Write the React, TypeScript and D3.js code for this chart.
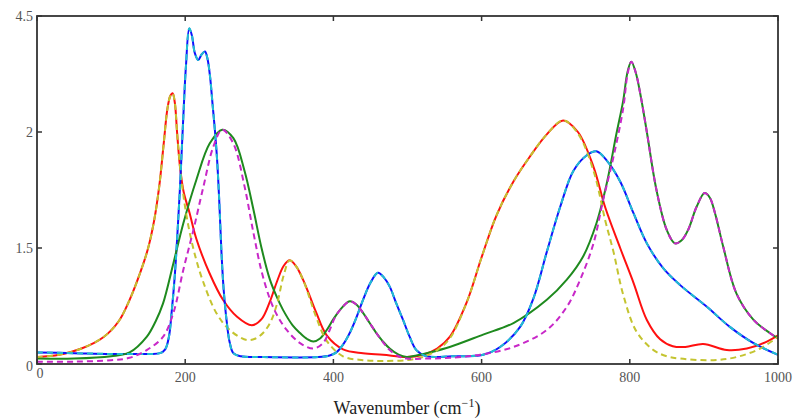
import React from "react";
import * as d3 from "d3";

// Wavenumber (cm^-1), intensity pairs
const redSeries: [number, number][] = [
  [0, 0.09], [30, 0.12], [60, 0.2], [90, 0.35], [110, 0.55], [125, 0.83], [140, 1.2], [150, 1.5],
  [158, 1.85], [165, 2.3], [171, 2.85], [176, 3.3], [180, 3.47], [183, 3.5], [186, 3.38], [189, 3.0],
  [193, 2.55], [198, 2.22], [206, 1.95], [215, 1.62], [233, 1.17], [251, 0.83], [270, 0.61], [290, 0.5],
  [303, 0.58], [314, 0.8], [324, 1.07], [333, 1.27], [341, 1.34], [350, 1.26], [359, 1.09], [368, 0.88],
  [377, 0.66], [391, 0.37], [413, 0.19], [440, 0.14], [467, 0.12], [499, 0.09], [521, 0.12], [540, 0.2],
  [557, 0.35], [580, 0.8], [600, 1.38], [620, 1.92], [643, 2.36], [665, 2.68], [688, 2.97], [710, 3.15],
  [730, 3.0], [751, 2.55], [767, 2.02], [787, 1.5], [805, 1.05], [823, 0.57], [841, 0.32], [858, 0.23],
  [875, 0.22], [899, 0.26], [931, 0.18], [958, 0.2], [985, 0.29], [1000, 0.37],
];

const yellowSeries: [number, number][] = [
  [0, 0.09], [30, 0.12], [60, 0.2], [90, 0.35], [110, 0.55], [125, 0.83], [140, 1.2], [150, 1.5],
  [158, 1.85], [165, 2.3], [171, 2.85], [176, 3.3], [180, 3.47], [183, 3.5], [186, 3.38], [189, 3.0],
  [193, 2.55], [198, 2.15], [205, 1.75], [214, 1.38], [224, 1.07], [242, 0.66], [260, 0.44], [283, 0.31],
  [295, 0.33], [305, 0.4], [315, 0.54], [324, 0.78], [333, 1.15], [341, 1.34], [350, 1.26], [359, 1.09],
  [368, 0.85], [377, 0.6], [391, 0.3], [413, 0.1], [440, 0.05], [467, 0.04], [499, 0.05], [521, 0.09],
  [540, 0.18], [557, 0.33], [580, 0.8], [600, 1.38], [620, 1.92], [643, 2.36], [665, 2.68], [688, 2.97],
  [710, 3.15], [730, 2.98], [751, 2.5], [767, 1.85], [778, 1.45], [791, 0.9], [809, 0.42], [832, 0.18],
  [850, 0.1], [868, 0.07], [913, 0.05], [944, 0.09], [976, 0.2], [1000, 0.35],
];

const blueSeries: [number, number][] = [
  [0, 0.15], [50, 0.14], [100, 0.13], [150, 0.13], [166, 0.14], [173, 0.19], [178, 0.35], [182, 0.7],
  [186, 1.15], [189, 1.6], [193, 2.29], [197, 3.1], [201, 3.85], [205.5, 4.34], [209, 4.25], [213, 4.02],
  [217.7, 3.93], [222, 4.0], [226.7, 4.04], [230, 3.95], [233.5, 3.72], [237, 3.35], [240, 3.03],
  [243, 2.65], [246, 2.1], [249, 1.43], [252, 0.95], [256, 0.55], [260, 0.28], [265, 0.14], [275, 0.1],
  [305, 0.09], [380, 0.09], [395, 0.11], [404, 0.15], [413, 0.25], [422, 0.4], [431, 0.6], [440, 0.83],
  [450, 1.05], [460, 1.18], [468, 1.12], [476, 1.0], [485, 0.78], [494, 0.57], [503, 0.35], [512, 0.18],
  [526, 0.1], [560, 0.1], [602, 0.12], [625, 0.22], [652, 0.48], [670, 0.85], [688, 1.45], [706, 2.03],
  [724, 2.5], [742, 2.7], [755, 2.75], [769, 2.63], [787, 2.36], [805, 1.95], [823, 1.56], [845, 1.24],
  [868, 1.02], [904, 0.74], [935, 0.48], [967, 0.27], [1000, 0.12],
];

const cyanSeries: [number, number][] = blueSeries.map(([x, y]) => [x, y]);

const greenSeries: [number, number][] = [
  [0, 0.07], [50, 0.07], [100, 0.1], [125, 0.15], [148, 0.35], [160, 0.55], [170, 0.78], [184, 1.3],
  [197.5, 1.82], [215, 2.38], [233, 2.85], [250, 3.03], [265, 2.92], [280, 2.5], [292, 2.0], [303, 1.5],
  [314, 1.1], [323, 0.88], [332, 0.7], [345, 0.5], [355, 0.4], [365, 0.32], [373, 0.29], [382, 0.33],
  [391, 0.44], [400, 0.58], [409, 0.7], [422, 0.81], [431, 0.77], [440, 0.66], [449, 0.53], [458, 0.4],
  [467, 0.29], [476, 0.2], [488, 0.12], [499, 0.09], [512, 0.11], [526, 0.14], [557, 0.22], [602, 0.38],
  [643, 0.53], [688, 0.83], [715, 1.09], [737, 1.39], [755, 1.82], [769, 2.34], [782, 2.98], [791, 3.4],
  [797, 3.78], [802, 3.91], [808, 3.77], [815, 3.45], [823, 3.0], [836, 2.25], [850, 1.73], [861, 1.56],
  [870, 1.6], [879, 1.74], [890, 2.03], [901, 2.21], [908, 2.15], [915, 1.95], [926, 1.52], [944, 0.91],
  [967, 0.57], [989, 0.4], [1000, 0.33],
];

const magentaSeries: [number, number][] = [
  [0, 0.03], [50, 0.03], [100, 0.05], [125, 0.08], [148, 0.18], [170, 0.35], [184, 0.66], [197.5, 1.22],
  [211, 1.73], [224.5, 2.29], [238, 2.81], [250, 3.03], [265, 2.85], [280, 2.3], [292, 1.7], [303, 1.2],
  [314, 0.85], [323.5, 0.64], [337, 0.44], [355, 0.27], [373, 0.2], [386, 0.27], [395, 0.44], [402, 0.6],
  [409, 0.7], [422, 0.81], [431, 0.77], [440, 0.66], [449, 0.53], [458, 0.4], [467, 0.28], [476, 0.18],
  [488, 0.1], [499, 0.07], [526, 0.07], [557, 0.08], [598, 0.12], [643, 0.22], [688, 0.44], [715, 0.74],
  [733, 1.09], [751, 1.56], [764, 2.12], [778, 2.68], [791, 3.3], [797, 3.75], [802, 3.91], [808, 3.77],
  [815, 3.45], [823, 3.0], [836, 2.25], [850, 1.73], [861, 1.56], [870, 1.6], [879, 1.74], [890, 2.03],
  [901, 2.21], [908, 2.15], [915, 1.95], [926, 1.52], [944, 0.91], [967, 0.57], [989, 0.4], [1000, 0.33],
];

const xTickValues = [0, 200, 400, 600, 800, 1000];
const xTickLabels = ["0", "200", "400", "600", "800", "1000"];
const yTickValues = [0, 1.5, 3, 4.5];
const yTickLabels = ["0", "1.5", "2", "4.5"];

const W = 798;
const H = 419;
const left = 37;
const right = 778;
const top = 16;
const bottom = 364;

export default function App() {
  const x = d3.scaleLinear().domain([0, 1000]).range([left, right]);
  const y = d3.scaleLinear().domain([0, 4.5]).range([bottom, top]);
  const line = d3
    .line<[number, number]>()
    .x((d) => x(d[0]))
    .y((d) => y(d[1]))
    .curve(d3.curveCatmullRom.alpha(0.5));

  const series = [
    { data: redSeries, color: "#ff1010", dash: null },
    { data: blueSeries, color: "#1010ff", dash: null },
    { data: greenSeries, color: "#1e8a1e", dash: null },
    { data: yellowSeries, color: "#c4c430", dash: "6,4" },
    { data: cyanSeries, color: "#20c0d0", dash: "6,4" },
    { data: magentaSeries, color: "#c828c8", dash: "6,4" },
  ];

  const font = "'Liberation Serif', 'DejaVu Serif', serif";
  const tickColor = "#555";

  return (
    <svg
      width={W}
      height={H}
      style={{ position: "absolute", left: 0, top: 0, background: "#fff" }}
    >
      <defs>
        <clipPath id="plotclip">
          <rect x={left} y={top - 2} width={right - left} height={bottom - top + 2} />
        </clipPath>
      </defs>
      <g clipPath="url(#plotclip)">
        {series.map((s, i) => (
          <path
            key={i}
            d={line(s.data) || ""}
            fill="none"
            stroke={s.color}
            strokeWidth={2}
            strokeDasharray={s.dash || undefined}
            strokeLinejoin="round"
          />
        ))}
      </g>
      {/* frame */}
      <rect
        x={left}
        y={top}
        width={right - left}
        height={bottom - top}
        fill="none"
        stroke="#333"
        strokeWidth={1.8}
      />
      {/* x ticks */}
      {xTickValues.map((v, i) => (
        <g key={"xt" + i}>
          <line x1={x(v)} x2={x(v)} y1={bottom} y2={bottom - 5} stroke="#333" strokeWidth={1.5} />
          <line x1={x(v)} x2={x(v)} y1={top} y2={top + 5} stroke="#333" strokeWidth={1.5} />
          <text
            x={x(v) + (v === 0 ? 3 : 0)}
            y={v === 0 ? 378 : 382}
            textAnchor="middle"
            fontFamily={font}
            fontSize={14}
            fill={tickColor}
          >
            {xTickLabels[i]}
          </text>
        </g>
      ))}
      {/* y ticks */}
      {yTickValues.map((v, i) => (
        <g key={"yt" + i}>
          <line x1={left} x2={left + 5} y1={y(v)} y2={y(v)} stroke="#333" strokeWidth={1.5} />
          <line x1={right} x2={right - 5} y1={y(v)} y2={y(v)} stroke="#333" strokeWidth={1.5} />
          <text
            x={33}
            y={y(v) + (v === 0 ? 7 : 5)}
            textAnchor="end"
            fontFamily={font}
            fontSize={14}
            fill={tickColor}
          >
            {yTickLabels[i]}
          </text>
        </g>
      ))}
      {/* x label */}
      <text x={407} y={414} textAnchor="middle" fontFamily={font} fontSize={18} fill="#222">
        Wavenumber (cm
        <tspan dy={-7} fontSize={12}>
          −1
        </tspan>
        <tspan dy={7}>)</tspan>
      </text>
    </svg>
  );
}
